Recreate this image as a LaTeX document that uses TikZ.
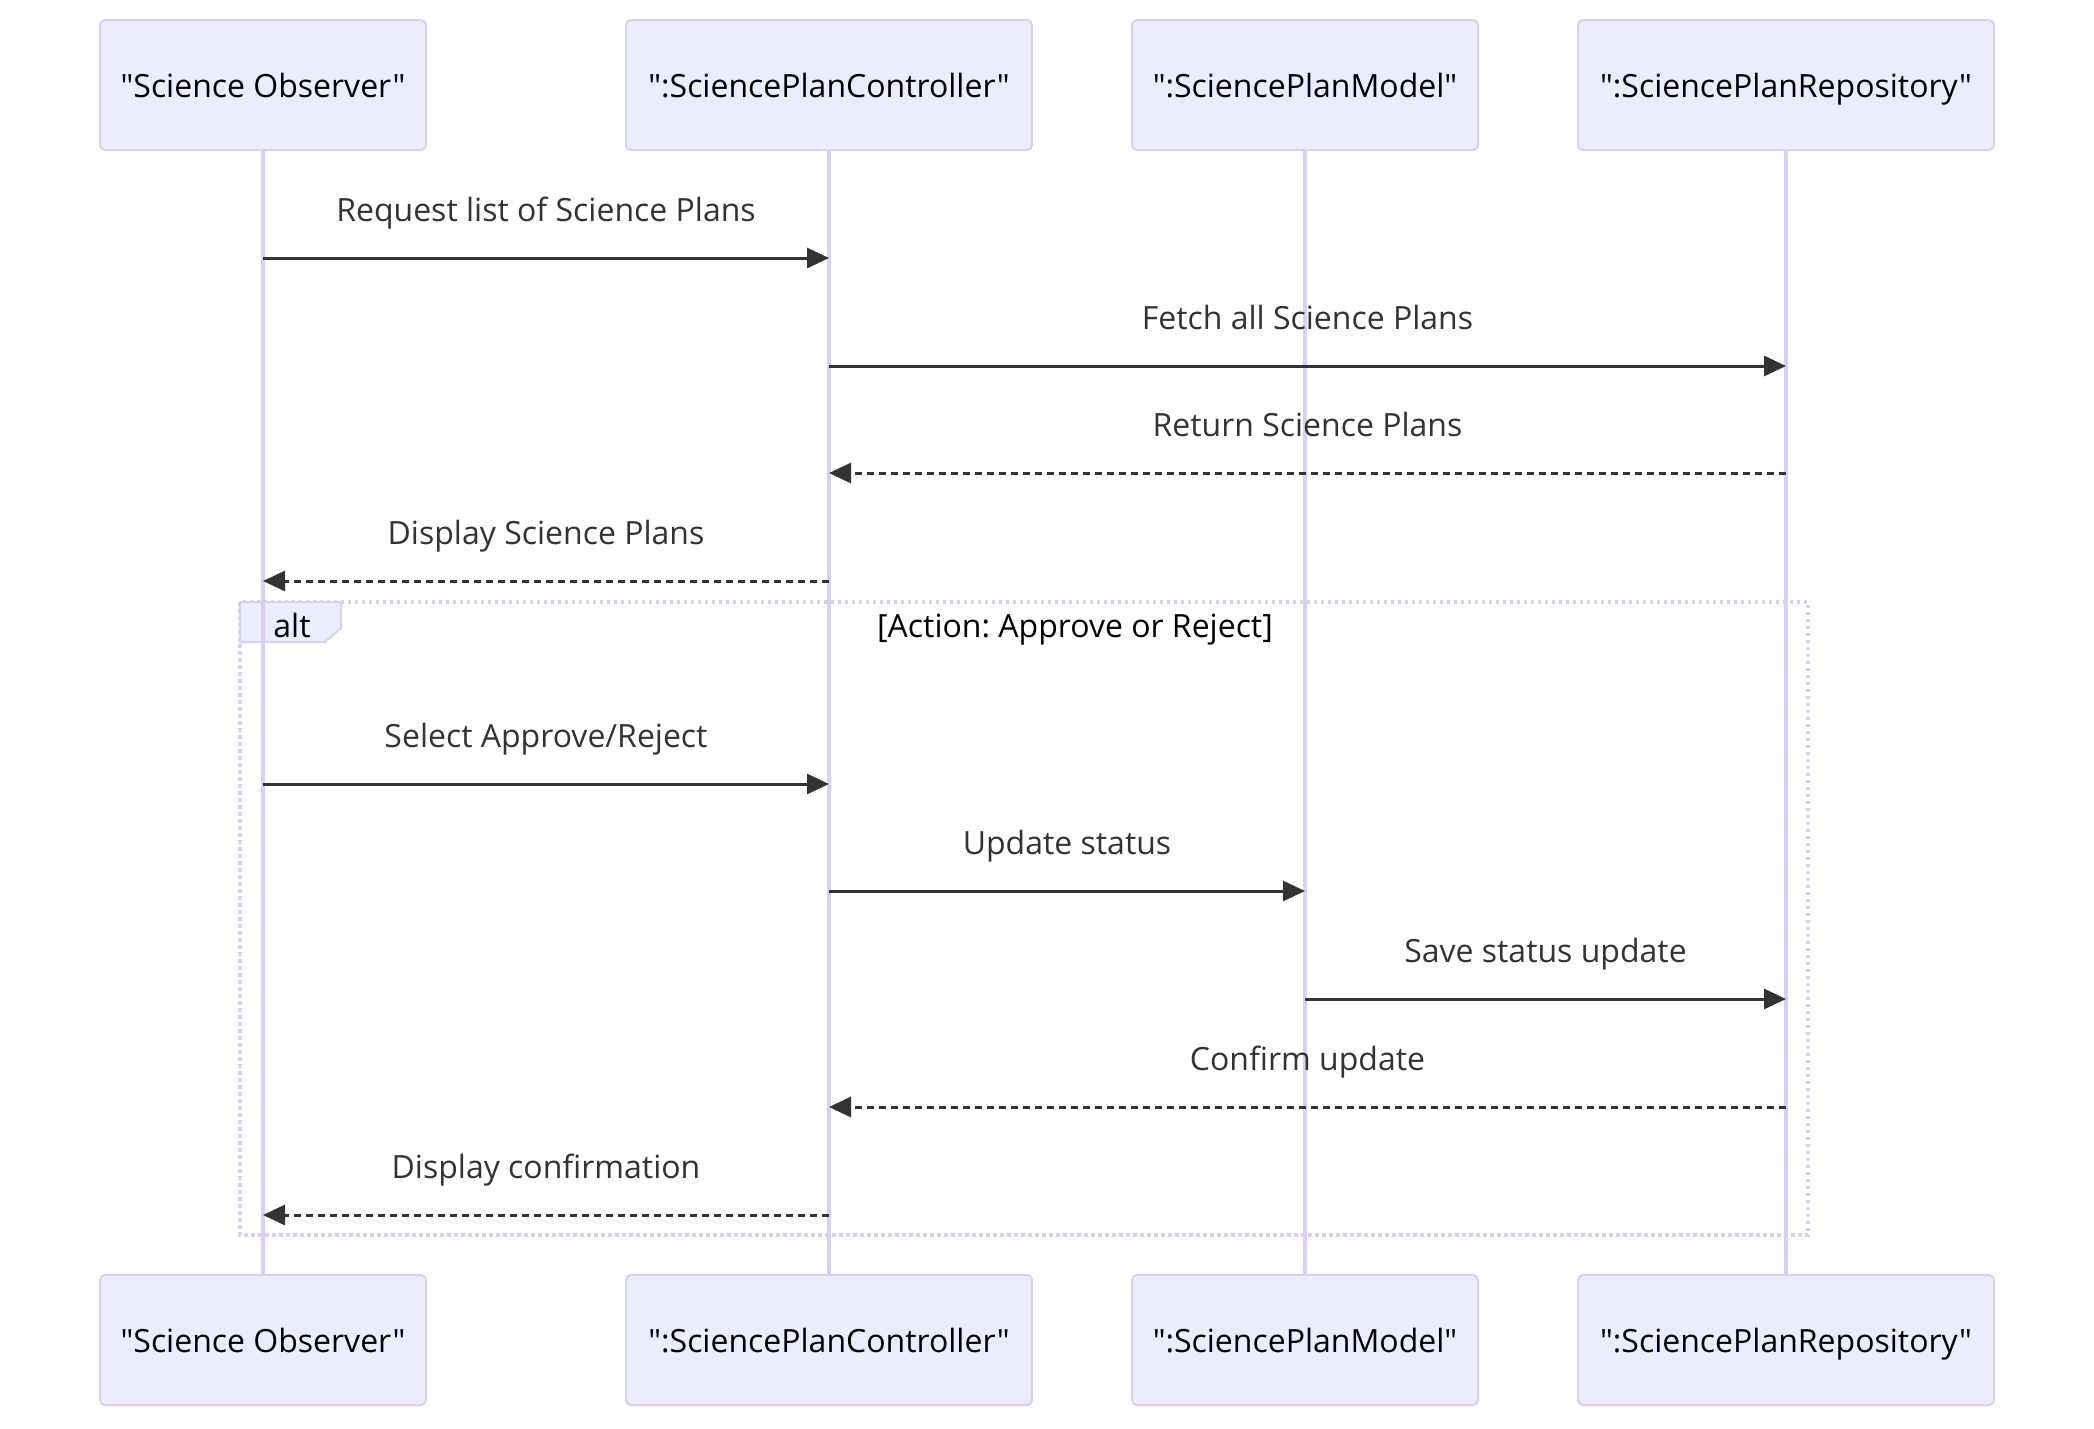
\documentclass[tikz,border=0pt]{standalone}
\usepackage{fontspec}
\setmainfont{Open Sans}[Ligatures=TeXOff]
\usetikzlibrary{arrows.meta}
\definecolor{actfill}{HTML}{ECECFF}
\definecolor{actline}{HTML}{DACEF3}
\definecolor{msgcol}{HTML}{333333}
\frenchspacing
\begin{document}
\begin{tikzpicture}[x=1pt,y=-1pt,
  txt/.style={font=\fontsize{32}{38}\selectfont, inner sep=0pt},
  actor/.style={txt, draw=actline, line width=2pt, fill=actfill, rounded corners=5pt,
     minimum height=130pt, text height=24pt, text depth=0pt, text=black},
  lifeline/.style={draw=actline, line width=3.5pt},
  msgsolid/.style={draw=msgcol, line width=3pt, -{Triangle[length=22pt,width=20pt]}, color=msgcol},
  msgdash/.style={msgsolid, dash pattern=on 7pt off 5pt},
  mlabel/.style={txt, text=msgcol, anchor=base, yshift=37pt},
  altbox/.style={draw=actline, line width=3.3pt, dash pattern=on 3.5pt off 3.5pt},
  altlabel/.style={draw=actline, line width=2pt, fill=actfill}
]
\useasboundingbox (0,0) rectangle (2094,1428);
\fill[white] (0,0) rectangle (2094,1428);

% actors top
\node[actor, minimum width=326pt] (a1t) at (263,85) {"Science Observer"};
\node[actor, minimum width=406pt] (a2t) at (829,85) {":SciencePlanController"};
\node[actor, minimum width=346pt] (a3t) at (1305,85) {":SciencePlanModel"};
\node[actor, minimum width=416pt] (a4t) at (1786,85) {":SciencePlanRepository"};
% actors bottom
\node[actor, minimum width=326pt] (a1b) at (263,1340) {"Science Observer"};
\node[actor, minimum width=406pt] (a2b) at (829,1340) {":SciencePlanController"};
\node[actor, minimum width=346pt] (a3b) at (1305,1340) {":SciencePlanModel"};
\node[actor, minimum width=416pt] (a4b) at (1786,1340) {":SciencePlanRepository"};

% alt frame
\draw[altbox] (240,602) rectangle (1808,1235);
\draw[altlabel] (240,602) -- (341,602) -- (341,628) -- (325,642) -- (240,642) -- cycle;
\node[txt, anchor=base, text=black] (altt) at (292,637) {alt};
\node[txt, anchor=base, text=black] (altc) at (1075,637) {[Action: Approve or Reject]};

% lifelines
\draw[lifeline] (a1t) -- (a1b);
\draw[lifeline] (a2t) -- (a2b);
\draw[lifeline] (a3t) -- (a3b);
\draw[lifeline] (a4t) -- (a4b);

% message end points
\coordinate (m1a) at (263,258);  \coordinate (m1b) at (829,258);
\coordinate (m2a) at (829,366);  \coordinate (m2b) at (1786,366);
\coordinate (m3a) at (1786,473); \coordinate (m3b) at (829,473);
\coordinate (m4a) at (829,581);  \coordinate (m4b) at (263,581);
\coordinate (m5a) at (263,784);  \coordinate (m5b) at (829,784);
\coordinate (m6a) at (829,891);  \coordinate (m6b) at (1305,891);
\coordinate (m7a) at (1305,999); \coordinate (m7b) at (1786,999);
\coordinate (m8a) at (1786,1107); \coordinate (m8b) at (829,1107);
\coordinate (m9a) at (829,1215); \coordinate (m9b) at (263,1215);

\draw[msgsolid] (m1a) -- node[mlabel] (l1) {Request list of Science Plans} (m1b);
\draw[msgsolid] (m2a) -- node[mlabel] (l2) {Fetch all Science Plans} (m2b);
\draw[msgdash]  (m3a) -- node[mlabel] (l3) {Return Science Plans} (m3b);
\draw[msgdash]  (m4a) -- node[mlabel] (l4) {Display Science Plans} (m4b);
\draw[msgsolid] (m5a) -- node[mlabel] (l5) {Select Approve/Reject} (m5b);
\draw[msgsolid] (m6a) -- node[mlabel] (l6) {Update status} (m6b);
\draw[msgsolid] (m7a) -- node[mlabel] (l7) {Save status update} (m7b);
\draw[msgdash]  (m8a) -- node[mlabel] (l8) {Confirm update} (m8b);
\draw[msgdash]  (m9a) -- node[mlabel] (l9) {Display confirmation} (m9b);
\end{tikzpicture}
\end{document}
